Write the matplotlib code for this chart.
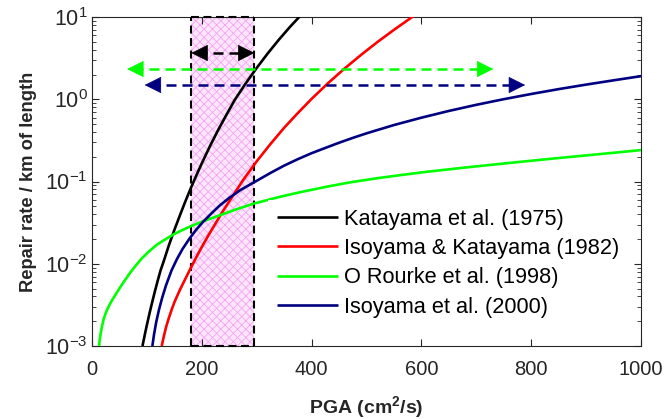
import numpy as np
import matplotlib
matplotlib.use("Agg")
import matplotlib.pyplot as plt
from matplotlib.ticker import LogLocator, FixedLocator, NullFormatter

plt.rcParams['font.family'] = ['Liberation Sans', 'DejaVu Sans']
plt.rcParams['mathtext.fontset'] = 'custom'
plt.rcParams['mathtext.rm'] = 'Liberation Sans'
plt.rcParams['mathtext.bf'] = 'Liberation Sans:bold'
plt.rcParams['mathtext.default'] = 'regular'
plt.rcParams['hatch.linewidth'] = 0.6

# ---- data ----
kat75_x = [92, 96, 100, 105, 110, 115, 120, 125, 130, 140, 150, 160, 170, 180, 190, 200, 215, 230, 245, 260, 280, 300, 320, 340, 360, 378]
kat75_y = [0.001, 0.00135, 0.0018, 0.00253, 0.00348, 0.00473, 0.00632, 0.00834, 0.0104, 0.0167, 0.0257, 0.0385, 0.0571, 0.083, 0.118, 0.166, 0.27, 0.425, 0.649, 0.98, 1.56, 2.40, 3.60, 5.26, 7.50, 10.1]

isokat82_x = [127, 131, 135, 140, 145, 150, 160, 170, 180, 190, 200, 212, 225, 240, 257, 275, 300, 325, 350, 375, 400, 430, 460, 490, 520, 550, 585]
isokat82_y = [0.001, 0.00132, 0.0017, 0.00219, 0.00275, 0.00339, 0.00479, 0.00653, 0.00891, 0.0120, 0.0160, 0.0221, 0.0309, 0.0452, 0.0676, 0.1035, 0.176, 0.285, 0.45, 0.68, 1.01, 1.57, 2.36, 3.46, 4.97, 6.98, 10.2]

orourke98_x = [13, 14, 16, 18, 21, 25, 30, 36, 43, 51, 60, 70, 80, 90, 103, 118, 133, 148, 163, 178, 200, 227, 260, 294, 340, 379, 430, 470, 525, 600, 680, 767, 850, 930, 1000]
orourke98_y = [0.001, 0.001175, 0.001445, 0.0017, 0.00209, 0.00251, 0.00299, 0.00355, 0.00422, 0.00513, 0.00631, 0.00785, 0.00955, 0.01148, 0.01396, 0.0170, 0.0197, 0.02265, 0.0254, 0.0282, 0.0324, 0.0376, 0.0452, 0.0537, 0.0646, 0.0741, 0.0871, 0.0977, 0.111, 0.129, 0.148, 0.170, 0.193, 0.217, 0.241]

iso00_x = [110, 113, 117, 122, 128, 135, 145, 155, 165, 178, 190, 203, 218, 233, 250, 270, 300, 325, 350, 375, 400, 425, 450, 475, 500, 550, 600, 650, 700, 750, 800, 850, 900, 950, 1000]
iso00_y = [0.001, 0.00138, 0.00195, 0.00275, 0.00389, 0.0055, 0.00832, 0.01148, 0.01514, 0.0204, 0.026, 0.0327, 0.0412, 0.0513, 0.0631, 0.0785, 0.102, 0.127, 0.156, 0.187, 0.221, 0.256, 0.296, 0.339, 0.385, 0.486, 0.597, 0.721, 0.856, 1.002, 1.159, 1.328, 1.507, 1.699, 1.91]

labels = ['Katayama et al. (1975)', 'Isoyama & Katayama (1982)',
          'O Rourke et al. (1998)', 'Isoyama et al. (2000)']
colors = ['#000000', '#ff0000', '#00ff00', '#000080']

band_x = [181, 296]
black_arrow = ([181, 296], 3.65)
green_arrow = ([64, 731], 2.33)
navy_arrow = ([96, 789], 1.49)

xticks = [0, 200, 400, 600, 800, 1000]
yticks = [1e-3, 1e-2, 1e-1, 1e0, 1e1]
ytick_labels = ['$10^{-3}$', '$10^{-2}$', '$10^{-1}$', '$10^{0}$', '$10^{1}$']

# ---- figure ----
fig = plt.figure(figsize=(6.65, 4.19), dpi=100)
ax = fig.add_axes([0.1383, 0.1742, 0.8256, 0.7852])
ax.set_yscale('log')
ax.set_xlim(0, 1000)
ax.set_ylim(1e-3, 1e1)

# shaded band
ax.fill_between(band_x, 1e-3, 1e1, facecolor='#fde6fc', edgecolor='#f2a6f0',
                hatch='xxxx', linewidth=0, zorder=1)
dash = (0, (3.8, 2.2))
for bx in band_x:
    ax.plot([bx, bx], [1e-3, 1e1], color='black', ls=dash, lw=1.5, zorder=3, clip_on=False)
ax.plot(band_x, [1e1, 1e1], color='black', ls=dash, lw=1.5, zorder=3, clip_on=False)
ax.plot(band_x, [1e-3, 1e-3], color='black', ls=dash, lw=1.5, zorder=3, clip_on=False)

series = [(kat75_x, kat75_y), (isokat82_x, isokat82_y), (orourke98_x, orourke98_y), (iso00_x, iso00_y)]
for (sx, sy), c, lab in zip(series, colors, labels):
    ax.plot(sx, sy, color=c, lw=1.9, label=lab, zorder=4, solid_capstyle='butt',
            solid_joinstyle='round')

def dbl_arrow(xs, y, color):
    x0, x1 = xs
    ax.plot([x0 + 10, x1 - 10], [y, y], color=color, lw=1.8, ls=(0, (4, 2.4)), zorder=5)
    for tip, frm in ((x0, x0 + 12), (x1, x1 - 12)):
        ax.annotate('', xy=(tip, y), xytext=(frm, y),
                    arrowprops=dict(arrowstyle='-|>,head_length=1.1,head_width=0.55',
                                    color=color, lw=0.5, shrinkA=0, shrinkB=0),
                    zorder=6)

dbl_arrow(black_arrow[0], black_arrow[1], '#000000')
dbl_arrow(green_arrow[0], green_arrow[1], '#00ff00')
dbl_arrow(navy_arrow[0], navy_arrow[1], '#000080')

# axes styling
axc = '#262626'
for s in ax.spines.values():
    s.set_color(axc)
    s.set_linewidth(0.8)
ax.xaxis.set_major_locator(FixedLocator(xticks))
ax.set_xticklabels([str(t) for t in xticks])
ax.yaxis.set_major_locator(FixedLocator(yticks))
ax.set_yticklabels(ytick_labels)
ax.yaxis.set_minor_locator(LogLocator(base=10, subs=np.arange(2, 10)))
ax.yaxis.set_minor_formatter(NullFormatter())
ax.tick_params(which='both', direction='in', top=True, right=True, colors=axc,
               labelsize=14.5, labelcolor=axc)
ax.tick_params(axis='y', labelsize=15.5, pad=3)
ax.tick_params(which='major', length=5, width=0.8)
ax.tick_params(which='minor', length=3, width=0.6)
ax.tick_params(axis='x', pad=10)

ax.set_xlabel(r'PGA (cm$\mathbf{^2}$/s)', fontsize=14, fontweight='bold', color=axc, labelpad=11)
ax.set_ylabel('Repair rate / km of length', fontsize=13.2, fontweight='bold', color=axc, labelpad=6)

leg = ax.legend(loc='upper left', bbox_to_anchor=(0.3206, 0.4438), frameon=True,
                fontsize=15.7, handlelength=2.8, handletextpad=0.3, labelspacing=0.38,
                borderpad=0.4, borderaxespad=0, fancybox=False)
leg.get_frame().set_edgecolor('none')
leg.get_frame().set_facecolor('white')
leg.get_frame().set_alpha(1)
for t in leg.get_texts():
    t.set_color('#000000')

fig.savefig('out.png', dpi=100)
